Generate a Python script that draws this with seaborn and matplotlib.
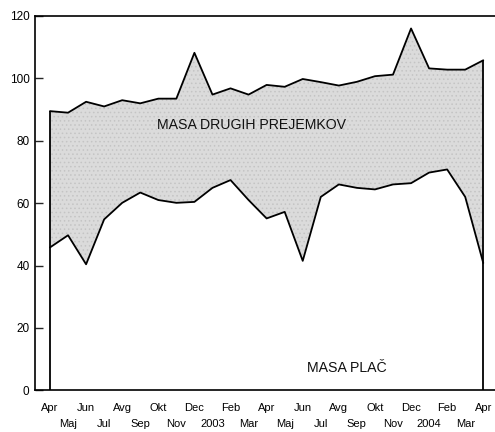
import numpy as np
import pandas as pd
import matplotlib
matplotlib.use("Agg")
import matplotlib.pyplot as plt
import seaborn as sns

# months Apr 2002 .. Apr 2004
months = ["Apr", "Maj", "Jun", "Jul", "Avg", "Sep", "Okt", "Nov", "Dec", "2003",
          "Feb", "Mar", "Apr", "Maj", "Jun", "Jul", "Avg", "Sep", "Okt", "Nov",
          "Dec", "2004", "Feb", "Mar", "Apr"]
masa_place = [45.8, 49.7, 40.4, 54.8, 60.1, 63.4, 61.0, 60.1, 60.4, 64.9,
              67.4, 61.0, 55.1, 57.2, 41.5, 62.0, 66.0, 64.9, 64.4, 66.0,
              66.4, 69.8, 70.8, 62.0, 40.8]
masa_skupaj = [89.5, 89.0, 92.5, 91.0, 93.0, 92.0, 93.5, 93.5, 108.2, 94.8,
               96.8, 94.8, 97.9, 97.3, 99.8, 98.8, 97.7, 98.9, 100.7, 101.2,
               116.0, 103.2, 102.8, 102.8, 105.8]

df = pd.DataFrame({"idx": np.arange(len(months)), "place": masa_place, "skupaj": masa_skupaj})

sns.set_style("ticks")
plt.rcParams["font.family"] = ["Liberation Sans", "DejaVu Sans"]
plt.rcParams["hatch.linewidth"] = 0.6

fig = plt.figure(figsize=(4.95, 4.32), dpi=100)
ax = fig.add_axes([0.0707, 0.0965, 0.9293, 0.8665])

ax.fill_between(df["idx"], df["place"], df["skupaj"], facecolor="#dbdbdb",
                edgecolor="#c4c4c4", hatch="....", linewidth=0, zorder=1)
sns.lineplot(data=df, x="idx", y="skupaj", color="black", lw=1.3, ax=ax, zorder=3)
sns.lineplot(data=df, x="idx", y="place", color="black", lw=1.3, ax=ax, zorder=3)
ax.vlines([df["idx"].iloc[0], df["idx"].iloc[-1]], 0,
          [df["skupaj"].iloc[0], df["skupaj"].iloc[-1]], color="black", lw=1.3, zorder=3)

ax.set_xlim(-0.83, 24.65)
ax.set_ylim(0, 120)
ax.set_yticks(range(0, 121, 20))
ax.tick_params(axis="y", direction="in", length=6, width=1, labelsize=8.5, pad=4,
               labelcolor="black")

ax.set_xticks(df["idx"][::2])
ax.set_xticklabels(months[::2])
ax.set_xticks(df["idx"][1::2], minor=True)
ax.set_xticklabels(months[1::2], minor=True)
ax.tick_params(axis="x", which="major", length=0, labelsize=8, pad=9, labelcolor="black")
ax.tick_params(axis="x", which="minor", length=0, labelsize=8, pad=21, labelcolor="black")

ax.set_xlabel("")
ax.set_ylabel("")
for s in ["left", "top", "bottom"]:
    ax.spines[s].set_linewidth(1.2)
    ax.spines[s].set_color("black")
ax.spines["right"].set_visible(False)

ax.text(11.15, 85, "MASA DRUGIH PREJEMKOV", ha="center", va="center", fontsize=10.2, color="#111111")
ax.text(16.46, 7.2, "MASA PLAČ", ha="center", va="center", fontsize=10.2, color="#111111")

fig.savefig("out.png", dpi=100)
